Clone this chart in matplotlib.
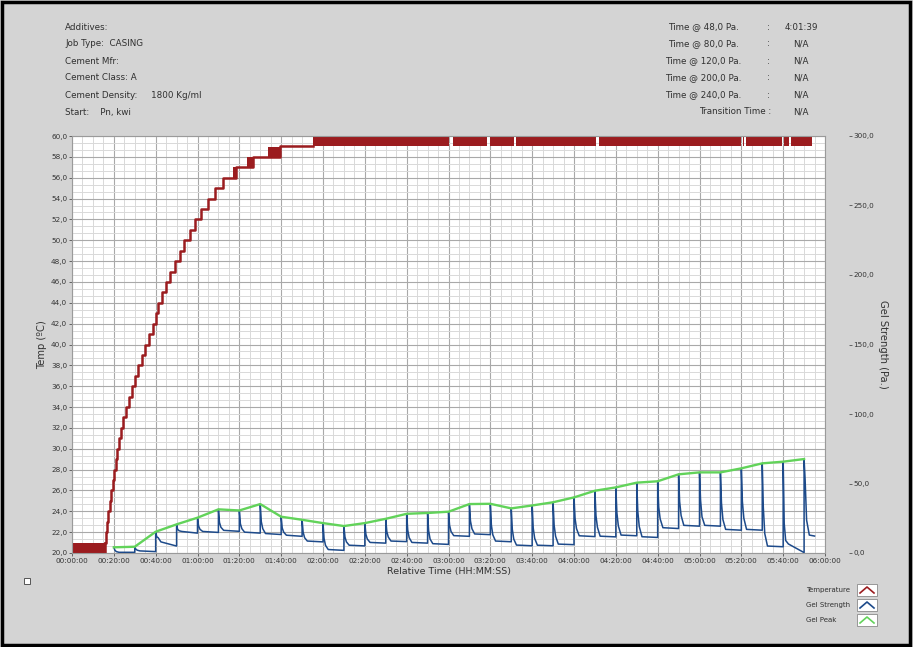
import numpy as np
import matplotlib
matplotlib.use('Agg')
import matplotlib.pyplot as plt
from matplotlib.patches import Rectangle
from matplotlib.lines import Line2D

# --- temperature (left axis, deg C) ---
# time in minutes at which each 1 degree step is reached
temp_levels = list(range(21, 60))
temp_step_min = [15.8, 16.3, 16.9, 17.4, 18.0, 18.6, 19.4, 20.2, 20.9, 21.7,
                 22.5, 23.3, 24.5, 25.8, 27.1, 28.5, 30.1, 31.7, 33.3, 34.9,
                 36.9, 38.9, 40.1, 41.3, 43.0, 44.8, 47.0, 49.2, 51.4, 53.7,
                 56.2, 58.8, 61.8, 64.8, 68.5, 72.3, 78.4, 86.7, 99.4]
temp_flat_end = 115.0

# noisy blocks (sensor flickering between two readings)
blk_from = [0.0, 77.0, 83.5, 93.7]
blk_to = [15.8, 78.4, 86.7, 99.4]
blk_lo = [20.0, 56.0, 57.0, 58.0]
blk_hi = [21.0, 57.0, 58.0, 58.9]

# 59-60 flicker band at the end, with its white gaps
band_from = [112.2, 113.6, 115.0, 182.3, 200.0, 212.4, 251.8, 320.6, 322.1, 340.4, 343.6]
band_to = [112.5, 113.9, 180.0, 198.6, 211.5, 250.5, 320.0, 321.5, 339.5, 343.0, 353.7]

# --- gel strength (right axis, Pa) : one test every 10 minutes ---
cycle_min = list(range(20, 351, 10))
gel_peak = [4.1, 4.5, 15.3, 20.6, 25.4, 31.4, 30.6, 35.2, 26.1, 23.9,
            21.5, 19.4, 21.5, 24.6, 28.2, 28.8, 29.7, 35.2, 35.4, 32.1,
            34.2, 36.5, 40.0, 44.8, 47.2, 50.6, 51.6, 56.6, 58.0, 58.0,
            60.9, 64.5, 65.7, 67.6]
gel_fall1 = [2.0, 2.8, 11.7, 17.0, 19.5, 22.0, 21.0, 22.5, 18.0, 15.0,
             10.5, 11.5, 13.5, 15.5, 16.5, 16.0, 20.0, 23.0, 20.0, 17.0,
             18.0, 20.0, 25.0, 27.0, 29.0, 30.0, 33.0, 37.0, 38.0, 36.0,
             37.0, 33.0, 21.3, 52.5]
gel_fall2 = [1.0, 2.0, 11.0, 16.0, 17.0, 18.5, 17.5, 17.5, 15.0, 11.0,
             5.5, 8.0, 10.0, 11.5, 11.0, 10.0, 15.5, 17.5, 13.0, 10.0,
             10.5, 12.0, 17.5, 18.5, 19.5, 19.0, 24.5, 27.0, 26.0, 24.0,
             25.0, 14.0, 9.0, 23.7]
gel_rest_a = [0.5, 1.5, 8.0, 15.5, 15.5, 16.3, 15.0, 14.0, 12.8, 8.6,
              2.5, 5.6, 7.6, 8.6, 7.6, 6.7, 12.5, 13.7, 8.6, 5.7,
              5.6, 6.4, 12.4, 12.1, 12.9, 11.7, 18.2, 19.9, 19.9, 17.0,
              17.0, 5.0, 6.5, 12.9]
gel_rest_b = [0.5, 1.0, 5.0, 14.3, 14.8, 15.6, 14.3, 13.3, 12.0, 8.0,
              1.9, 5.1, 7.1, 8.2, 7.1, 6.2, 12.0, 13.2, 8.1, 5.2,
              5.2, 6.0, 11.8, 11.6, 12.4, 11.2, 17.6, 19.3, 19.3, 16.4,
              16.4, 4.5, 0.3, 12.2]
gel_end_min = 355.0

info_left = ["Additives:", "Job Type:  CASING", "Cement Mfr:", "Cement Class: A",
             "Cement Density:     1800 Kg/ml", "Start:    Pn, kwi"]
info_right = ["Time @ 48,0 Pa.", "Time @ 80,0 Pa.", "Time @ 120,0 Pa.",
              "Time @ 200,0 Pa.", "Time @ 240,0 Pa."]
info_vals = ["4:01:39", "N/A", "N/A", "N/A", "N/A", "N/A"]

c_temp = '#9b1c1f'
c_gel = '#1d4a8a'
c_peak = '#62d35a'
bg = '#d4d4d4'

W, H = 913, 647
fx = lambda p: p / W
fy = lambda p: 1 - p / H

fig = plt.figure(figsize=(W / 100, H / 100), dpi=100, facecolor=bg)
plt.rcParams['font.family'] = ['DejaVu Sans']

ax = fig.add_axes([fx(72), fy(553), fx(825) - fx(72), fy(136) - fy(553)])
ax.set_facecolor('white')
ax.set_xlim(0, 360)
ax.set_ylim(20, 60)

# grid
ax.set_xticks(np.arange(0, 361, 20))
ax.set_xticks(np.arange(0, 361, 5), minor=True)
ax.set_yticks(np.arange(20, 61, 2))
ax.set_yticks(20 + np.arange(0, 61) * (2 / 3), minor=True)
ax.grid(which='minor', color='#d9d9d9', lw=0.7)
ax.grid(which='major', color='#a9a9a9', lw=0.8)
ax.set_axisbelow(True)
ax.tick_params(which='minor', length=0)
ax.tick_params(which='major', length=2.5, width=0.6, color='#505050',
               labelsize=5.2, labelcolor='#333333', pad=1)
ax.set_xticklabels([f"{m // 60:02d}:{m % 60:02d}:00" for m in range(0, 361, 20)])
ax.set_yticklabels([f"{v:.1f}".replace('.', ',') for v in range(20, 61, 2)])
for s in ax.spines.values():
    s.set_color('#9a9a9a')
    s.set_linewidth(0.8)

# temperature
for a, b, lo, hi in zip(blk_from, blk_to, blk_lo, blk_hi):
    ax.fill_between([a, b], lo, hi, color=c_temp, lw=0)
for a, b in zip(band_from, band_to):
    ax.fill_between([a, b], 59, 60, color=c_temp, lw=0)
ax.step(temp_step_min + [temp_flat_end], temp_levels + [temp_levels[-1]],
        where='post', color=c_temp, lw=1.8)
ax.plot([temp_step_min[0], temp_step_min[0]], [20.0, 21.0], color=c_temp, lw=1.8)

ax.set_xlabel("Relative Time (HH:MM:SS)", fontsize=6.8, color='#333333', labelpad=2)
ax.set_ylabel("Temp (ºC)", fontsize=7.2, color='#333333', labelpad=3)

# gel strength on the right axis
ax2 = ax.twinx()
ax2.set_ylim(0, 300)
ax2.set_yticks(np.arange(0, 301, 50))
ax2.set_yticklabels([f"{v:.1f}".replace('.', ',') for v in range(0, 301, 50)])
for name, s in ax2.spines.items():
    s.set_color('none')
ax2.spines['right'].set_position(('outward', 17))
ax2.tick_params(axis='y', length=2.2, width=0.6, color='#505050',
                labelsize=5.2, labelcolor='#333333', pad=1)

gel_t, gel_v = [], []
for k, t0 in enumerate(cycle_min):
    t1 = cycle_min[k + 1] if k + 1 < len(cycle_min) else gel_end_min
    gel_t += [t0, t0 + 0.5, t0 + 1.2, t0 + 2.5, t1]
    gel_v += [gel_peak[k], gel_fall1[k], gel_fall2[k], gel_rest_a[k], gel_rest_b[k]]
ax2.plot(gel_t, gel_v, color=c_gel, lw=1.1)
ax2.plot(cycle_min, gel_peak, color=c_peak, lw=1.7)

ax2.set_ylabel("Gel Strength (Pa.)", fontsize=7.2, color='#333333', rotation=-90,
               labelpad=10)

# header text
for i, s in enumerate(info_left):
    fig.text(fx(65), fy(27 + 17 * i), s, fontsize=6.3, color='#303030', va='center')
for i, s in enumerate(info_right):
    fig.text(fx(703), fy(27 + 17 * i), s, fontsize=6.3, color='#303030',
             va='center', ha='center')
    fig.text(fx(768), fy(27 + 17 * i), ":", fontsize=6.3, color='#303030',
             va='center', ha='center')
fig.text(fx(771), fy(112), "Transition Time :", fontsize=6.3, color='#303030',
         va='center', ha='right')
for i, s in enumerate(info_vals):
    fig.text(fx(801), fy(27 + 17 * i), s, fontsize=6.3, color='#303030',
             va='center', ha='center')

# legend at bottom right
leg_names = ["Temperature", "Gel Strength", "Gel Peak"]
leg_cols = [c_temp, c_gel, c_peak]
for i, (n, c) in enumerate(zip(leg_names, leg_cols)):
    yc = 590 + 15 * i
    fig.text(fx(806), fy(yc), n, fontsize=5, color='#303030', va='center')
    fig.add_artist(Rectangle((fx(857), fy(yc + 6)), fx(20), 12 / H,
                             transform=fig.transFigure, facecolor='white',
                             edgecolor='#8a8a8a', lw=0.6))
    fig.add_artist(Line2D([fx(860), fx(867), fx(874)], [fy(yc + 3), fy(yc - 3), fy(yc + 3)],
                          transform=fig.transFigure, color=c, lw=1.2))

# small square bottom-left and outer frame
fig.add_artist(Rectangle((fx(24), fy(584)), 6 / W, 6 / H, transform=fig.transFigure,
                         facecolor='white', edgecolor='#555555', lw=0.7))
fig.add_artist(Rectangle((0.002, 0.003), 0.995, 0.994, transform=fig.transFigure,
                         fill=False, edgecolor='black', lw=2.5))

fig.savefig('out.png', dpi=100, facecolor=bg)
